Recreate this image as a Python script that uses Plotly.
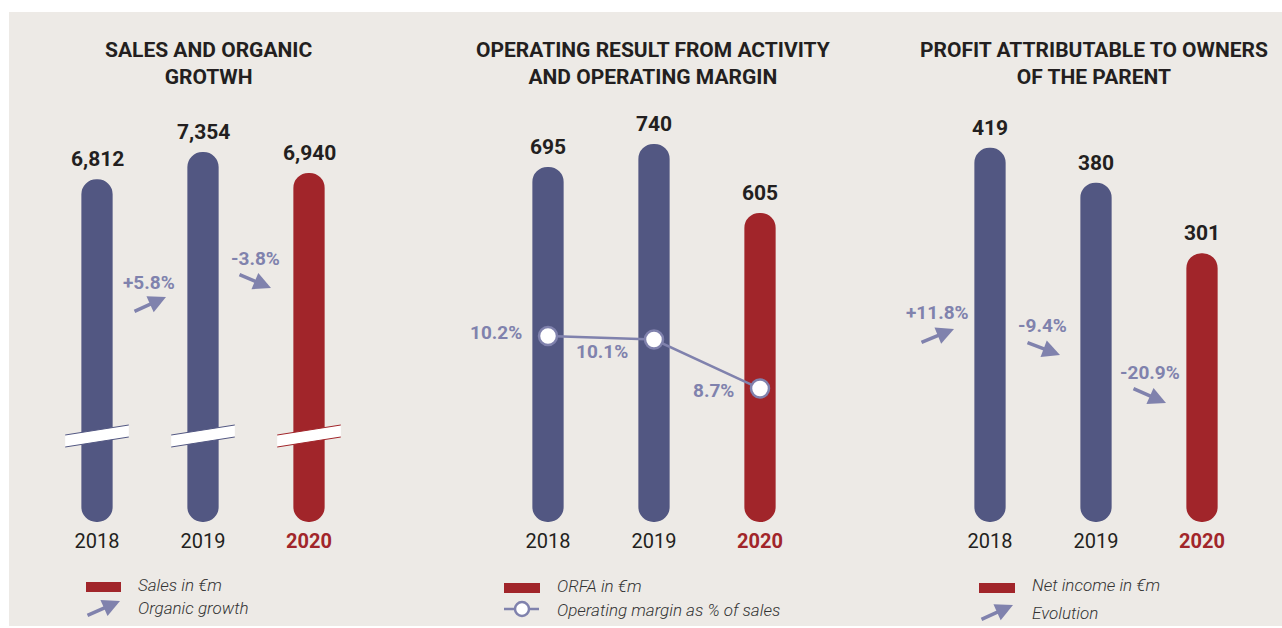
import plotly.graph_objects as go

# Data
years = ["2018", "2019", "2020"]
sales = [6812, 7354, 6940]
organic_growth = ["+5.8%", "-3.8%"]
orfa = [695, 740, 605]
operating_margin = [10.2, 10.1, 8.7]
net_income = [419, 380, 301]
net_income_evolution = ["+11.8%", "-9.4%", "-20.9%"]

# Look
W, H = 1282, 628
NAVY = "#525782"
RED = "#A1252A"
LILAC = "#8082AD"
DARK = "#231F20"
BG = "#EDEAE6"
FONT = "Roboto"
BAR_COLORS = [NAVY, NAVY, RED]


def px_x(p):
    return p / W


def px_y(p):
    return 1 - p / H


# value 0 sits at pixel row 522, top of the plot area at 100
Y_DOMAIN = [px_y(522), px_y(100)]
# left pixel of each panel, 106 px per category
PANEL_LEFT = [44, 495, 937]
Y_TOP = [8390, 826, 472.6]


def add_pill_bars(fig, values, n):
    xa = "x" if n == 1 else "x%d" % n
    ya = "y" if n == 1 else "y%d" % n
    # an explicit base makes plotly round both ends of the bar
    fig.add_trace(go.Bar(
        x=list(range(len(values))), y=values, base=[0] * len(values),
        width=0.295,
        marker=dict(color=BAR_COLORS, cornerradius="50%", line_width=0),
        xaxis=xa, yaxis=ya, hoverinfo="skip",
    ))
    for i, v in enumerate(values):
        fig.add_annotation(
            x=i, y=v, xref=xa, yref=ya, text="{:,}".format(v), showarrow=False,
            xanchor="center", yanchor="bottom", yshift=6,
            font=dict(family=FONT, size=21, color=DARK, weight=700),
        )


def add_arrow(fig, tail, head):
    fig.add_annotation(
        x=px_x(head[0]), y=px_y(head[1]), xref="paper", yref="paper",
        ax=tail[0] - head[0], ay=tail[1] - head[1], text="",
        showarrow=True, arrowhead=2, arrowsize=1, arrowwidth=3.5, arrowcolor=LILAC,
    )


def add_growth(fig, text, label_xy, tail, head):
    fig.add_annotation(
        x=px_x(label_xy[0]), y=px_y(label_xy[1]), xref="paper", yref="paper",
        text=text, showarrow=False, xanchor="center", yanchor="middle",
        font=dict(family=FONT, size=19, color=LILAC, weight=700),
    )
    add_arrow(fig, tail, head)


def add_legend_text(fig, text, x, y):
    fig.add_annotation(
        x=px_x(x), y=px_y(y), xref="paper", yref="paper", text=text,
        showarrow=False, xanchor="left", yanchor="middle",
        font=dict(family=FONT, size=17, color="#333333", style="italic", weight=300),
    )


def add_legend_rect(fig, x0, x1, y0, y1):
    fig.add_shape(type="rect", xref="paper", yref="paper",
                  x0=px_x(x0), x1=px_x(x1), y0=px_y(y1), y1=px_y(y0),
                  fillcolor=RED, line_width=0)


fig = go.Figure()

add_pill_bars(fig, sales, 1)
add_pill_bars(fig, orfa, 2)
add_pill_bars(fig, net_income, 3)

# operating margin line
fig.add_trace(go.Scatter(
    x=[0, 1, 2], y=operating_margin, xaxis="x2", yaxis="y4",
    mode="lines+markers",
    line=dict(color=LILAC, width=2.5),
    marker=dict(size=18, color="white", line=dict(color=LILAC, width=2.5)),
    hoverinfo="skip",
))
for i, (m, dy) in enumerate(zip(operating_margin, [4, -12, -2])):
    fig.add_annotation(
        x=i, y=m, xref="x2", yref="y4", text="%.1f%%" % m, showarrow=False,
        xanchor="right", yanchor="middle", xshift=-24, yshift=dy,
        font=dict(family=FONT, size=19, color=LILAC, weight=700),
    )

# growth labels and arrows
add_growth(fig, organic_growth[0], (149, 282), (133, 312), (166, 297))
add_growth(fig, organic_growth[1], (255, 258), (238, 274), (271, 288))
add_growth(fig, net_income_evolution[0], (937, 313), (920, 343), (954, 329))
add_growth(fig, net_income_evolution[1], (1042, 325), (1026, 342), (1060, 355))
add_growth(fig, net_income_evolution[2], (1150, 372), (1132, 388), (1166, 403))

# axis breaks on the sales bars
for i in range(len(sales)):
    x0, x1 = i - 0.3, i + 0.3
    fig.add_shape(
        type="path", xref="x", yref="paper", layer="above",
        path="M %f %f L %f %f L %f %f L %f %f Z" % (
            x0, px_y(447), x0, px_y(435), x1, px_y(425), x1, px_y(437)),
        fillcolor="white", line_width=0,
    )
    for ya, yb in [(435, 425), (447, 437)]:
        fig.add_shape(
            type="line", xref="x", yref="paper", layer="above",
            x0=x0, y0=px_y(ya), x1=x1, y1=px_y(yb),
            line=dict(color=BAR_COLORS[i], width=1),
        )

# titles
titles = [
    ("SALES AND ORGANIC<br>GROTWH", 209),
    ("OPERATING RESULT FROM ACTIVITY<br>AND OPERATING MARGIN", 653),
    ("PROFIT ATTRIBUTABLE TO OWNERS<br>OF THE PARENT", 1094),
]
for text, cx in titles:
    fig.add_annotation(
        x=px_x(cx), y=px_y(64), xref="paper", yref="paper", text=text,
        showarrow=False, align="center", xanchor="center", yanchor="middle",
        font=dict(family=FONT, size=21, color=DARK, weight=700),
    )

# legends
add_legend_rect(fig, 86, 121, 582, 592)
add_legend_text(fig, "Sales in €m", 136, 585)
add_arrow(fig, (86, 616), (120, 601))
add_legend_text(fig, "Organic growth", 136, 608)

add_legend_rect(fig, 504, 540, 583, 593)
add_legend_text(fig, "ORFA in €m", 555, 586)
fig.add_shape(type="line", xref="paper", yref="paper",
              x0=px_x(504), x1=px_x(539), y0=px_y(609), y1=px_y(609),
              line=dict(color=LILAC, width=2.5))
fig.add_shape(type="circle", xref="paper", yref="paper",
              x0=px_x(515), x1=px_x(529), y0=px_y(616), y1=px_y(602),
              fillcolor="white", line=dict(color=LILAC, width=2.5))
add_legend_text(fig, "Operating margin as % of sales", 555, 610)

add_legend_rect(fig, 979, 1015, 583, 593)
add_legend_text(fig, "Net income in €m", 1030, 585)
add_arrow(fig, (980, 620), (1013, 605))
add_legend_text(fig, "Evolution", 1030, 613)

# background panel
fig.add_shape(type="rect", xref="paper", yref="paper", layer="below",
              x0=px_x(9), x1=1, y0=px_y(626), y1=px_y(12),
              fillcolor=BG, line_width=0)

tick_text = [years[0], years[1], "<b><span style='color:%s'>%s</span></b>" % (RED, years[2])]
axis_common = dict(
    range=[-0.5, 2.5], tickvals=[0, 1, 2], ticktext=tick_text,
    showgrid=False, zeroline=False, showline=False, ticks="",
    ticklabelstandoff=5,
    tickfont=dict(family=FONT, size=20, color=DARK), fixedrange=True,
)
yaxis_common = dict(domain=Y_DOMAIN, visible=False, fixedrange=True)

layout = dict(
    width=W, height=H,
    margin=dict(l=0, r=0, t=0, b=0),
    paper_bgcolor="white", plot_bgcolor="rgba(0,0,0,0)",
    barmode="overlay", showlegend=False, hovermode=False,
    font=dict(family=FONT, color=DARK),
)
for n in range(3):
    sfx = "" if n == 0 else str(n + 1)
    left = PANEL_LEFT[n]
    layout["xaxis" + sfx] = dict(axis_common, domain=[px_x(left), px_x(left + 318)],
                                 anchor="y" + sfx)
    layout["yaxis" + sfx] = dict(yaxis_common, range=[0, Y_TOP[n]], anchor="x" + sfx)
layout["yaxis4"] = dict(yaxis_common, range=[4.886, 16.943], overlaying="y2", anchor="x2")

fig.update_layout(**layout)

# the page's default body margin would shift the chart by 8 px
fig.write_html("out.html", config={"displayModeBar": False},
               post_script="document.body.style.margin = '0';")
